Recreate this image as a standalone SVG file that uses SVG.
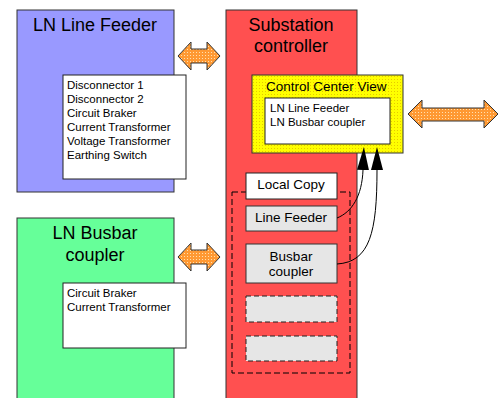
<svg xmlns="http://www.w3.org/2000/svg" width="499" height="398" viewBox="0 0 499 398">
  <defs>
    <style>
      .panel { stroke: #333; stroke-width: 1; }
      .card { fill: #fff; stroke: #222; stroke-width: 1; }
      .slot { fill: #e6e6e6; stroke: #333; stroke-width: 1; }
      .slot-empty { fill: #e6e6e6; stroke: #222; stroke-width: 1; stroke-dasharray: 5 3; }
      .title { font-family: "Liberation Sans", Arial, sans-serif; font-size: 18px; fill: #000; text-anchor: middle; }
      .item { font-family: "Liberation Sans", Arial, sans-serif; font-size: 11.5px; fill: #000; }
      .label { font-family: "Liberation Sans", Arial, sans-serif; font-size: 13.5px; fill: #000; }
      .mid { text-anchor: middle; }
      .link { fill: url(#dotsOrange); stroke: #333; stroke-width: 1; }
      .wire { fill: none; stroke: #000; stroke-width: 1; }
    </style>
    <pattern id="dotsYellow" width="3" height="3" patternUnits="userSpaceOnUse">
      <rect width="3" height="3" fill="#ffff00"/>
      <rect x="1" y="1" width="1" height="1" fill="#e6c800"/>
    </pattern>
    <pattern id="dotsOrange" width="3" height="3" patternUnits="userSpaceOnUse">
      <rect width="3" height="3" fill="#ff9933"/>
      <rect x="1" y="1" width="1" height="1" fill="#ffe0b0"/>
    </pattern>
    <marker id="head" viewBox="0 -6 23 12" refX="0" refY="0" markerWidth="23" markerHeight="12" markerUnits="userSpaceOnUse" orient="auto">
      <path d="M0,-6 L23,0 L0,6 Z" fill="#000"/>
    </marker>
  </defs>

  <!-- LN Line Feeder -->
  <g id="ln-line-feeder">
    <rect class="panel" x="17" y="10" width="157" height="182" fill="#9999ff"/>
    <text class="title" x="95" y="31">LN Line Feeder</text>
    <rect class="card" x="63" y="75" width="123" height="104"/>
    <text class="item" x="67" y="89">Disconnector 1</text>
    <text class="item" x="67" y="103">Disconnector 2</text>
    <text class="item" x="67" y="117">Circuit Braker</text>
    <text class="item" x="67" y="131">Current Transformer</text>
    <text class="item" x="67" y="145">Voltage Transformer</text>
    <text class="item" x="67" y="159">Earthing Switch</text>
  </g>

  <!-- LN Busbar coupler -->
  <g id="ln-busbar-coupler">
    <rect class="panel" x="17" y="218" width="157" height="182" fill="#66ff99"/>
    <text class="title" x="95" y="239">LN Busbar</text>
    <text class="title" x="95" y="261">coupler</text>
    <rect class="card" x="63" y="283" width="123" height="65"/>
    <text class="item" x="67" y="297">Circuit Braker</text>
    <text class="item" x="67" y="311">Current Transformer</text>
  </g>

  <!-- Substation controller -->
  <g id="substation-controller">
    <rect class="panel" x="226" y="10" width="131" height="390" fill="#ff5050"/>
    <text class="title" x="291" y="31">Substation</text>
    <text class="title" x="291" y="52">controller</text>
  </g>

  <!-- Control Center View -->
  <g id="control-center-view">
    <rect x="252" y="75" width="151" height="78" fill="url(#dotsYellow)" stroke="#333" stroke-width="1"/>
    <text class="label" x="266" y="91">Control Center View</text>
    <rect class="card" x="265" y="98" width="125" height="46"/>
    <text class="item" x="270" y="112">LN Line Feeder</text>
    <text class="item" x="270" y="126">LN Busbar coupler</text>
  </g>

  <!-- Local Copy -->
  <g id="local-copy">
    <rect x="232" y="192" width="118" height="181" fill="none" stroke="#000" stroke-width="1" stroke-dasharray="6 3"/>
    <rect class="card" x="246" y="173" width="91" height="26"/>
    <text class="label mid" x="291" y="189">Local Copy</text>
  </g>

  <g id="copy-line-feeder">
    <rect class="slot" x="246" y="206" width="91" height="25"/>
    <text class="label mid" x="291" y="222">Line Feeder</text>
  </g>

  <g id="copy-busbar-coupler">
    <rect class="slot" x="246" y="244" width="91" height="39"/>
    <text class="label mid" x="291" y="261">Busbar</text>
    <text class="label mid" x="291" y="276">coupler</text>
  </g>

  <g id="copy-empty-1">
    <rect class="slot-empty" x="246" y="296" width="91" height="26"/>
  </g>

  <g id="copy-empty-2">
    <rect class="slot-empty" x="246" y="336" width="91" height="25"/>
  </g>

  <!-- Connectors -->
  <g id="connectors">
    <path class="link" d="M178,56 L191,42 L191,49 L207,49 L207,42 L220,56 L207,70 L207,63 L191,63 L191,70 Z"/>
    <path class="link" d="M178,257 L191,243 L191,250 L207,250 L207,243 L220,257 L207,271 L207,264 L191,264 L191,271 Z"/>
    <path class="link" d="M408,114 L422,100 L422,108 L484,108 L484,100 L498,114 L484,128 L484,121 L422,121 L422,128 Z"/>
    <path class="wire" d="M337,218 C352,212 362,196 363,170" marker-end="url(#head)"/>
    <path class="wire" d="M337,264 C370,262 377,232 377,170" marker-end="url(#head)"/>
  </g>
</svg>
